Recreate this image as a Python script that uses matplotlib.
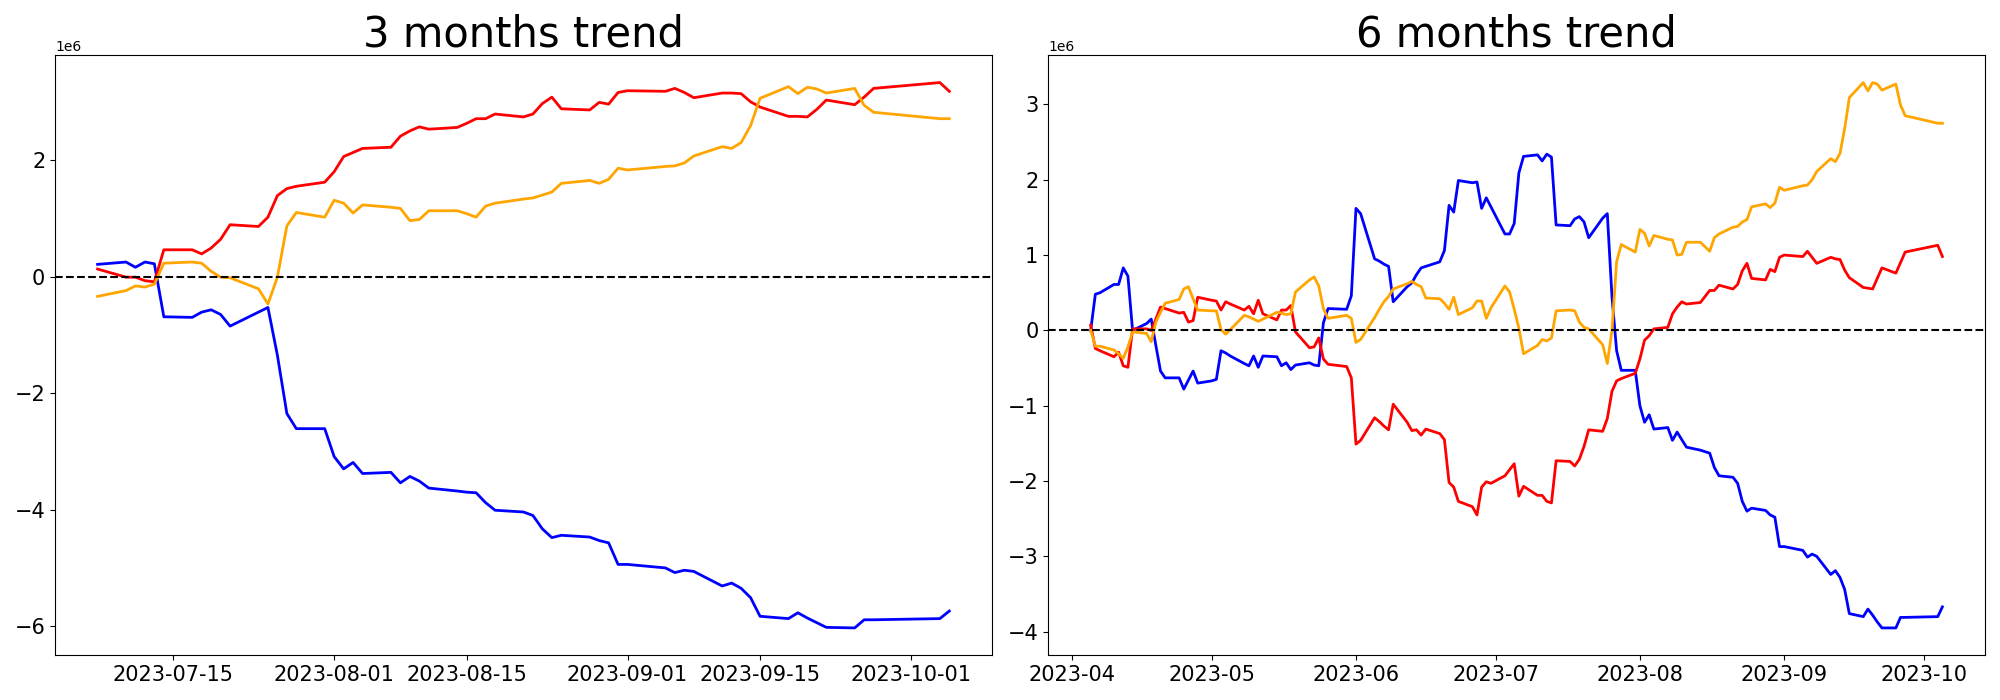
import matplotlib
matplotlib.use("Agg")
import matplotlib.pyplot as plt
import pandas as pd

# 3 months window (business days, values in units of 1e6 before scaling)
dates_3m = ['07-07', '07-10', '07-11', '07-12', '07-13', '07-14',
            '07-17', '07-18', '07-19', '07-20', '07-21',
            '07-24', '07-25', '07-26', '07-27', '07-28',
            '07-31', '08-01', '08-02', '08-03', '08-04',
            '08-07', '08-08', '08-09', '08-10', '08-11',
            '08-14', '08-15', '08-16', '08-17', '08-18',
            '08-21', '08-22', '08-23', '08-24', '08-25',
            '08-28', '08-29', '08-30', '08-31', '09-01',
            '09-05', '09-06', '09-07', '09-08',
            '09-11', '09-12', '09-13', '09-14', '09-15',
            '09-18', '09-19', '09-20', '09-21', '09-22',
            '09-25', '09-26', '09-27', '10-04', '10-05']

blue_3m = [0.21, 0.25, 0.16, 0.25, 0.22, -0.69,
           -0.70, -0.61, -0.57, -0.65, -0.85,
           -0.61, -0.53, -1.35, -2.35, -2.61,
           -2.61, -3.09, -3.30, -3.19, -3.38,
           -3.36, -3.54, -3.43, -3.51, -3.63,
           -3.68, -3.70, -3.71, -3.88, -4.01,
           -4.04, -4.10, -4.33, -4.48, -4.44,
           -4.47, -4.53, -4.57, -4.94, -4.94,
           -5.00, -5.08, -5.04, -5.06,
           -5.31, -5.26, -5.35, -5.51, -5.83,
           -5.87, -5.77, -5.86, -5.94, -6.02,
           -6.03, -5.89, -5.89, -5.87, -5.74]

red_3m = [0.13, -0.01, -0.01, -0.07, -0.09, 0.46,
          0.46, 0.39, 0.49, 0.64, 0.89,
          0.86, 1.02, 1.39, 1.51, 1.55,
          1.62, 1.80, 2.06, 2.13, 2.20,
          2.22, 2.41, 2.50, 2.57, 2.53,
          2.56, 2.63, 2.71, 2.71, 2.79,
          2.74, 2.79, 2.97, 3.08, 2.88,
          2.86, 2.99, 2.96, 3.16, 3.19,
          3.18, 3.23, 3.16, 3.07,
          3.15, 3.15, 3.14, 3.00, 2.91,
          2.75, 2.75, 2.74, 2.87, 3.03,
          2.95, 3.08, 3.23, 3.33, 3.18]

orange_3m = [-0.34, -0.24, -0.16, -0.18, -0.13, 0.23,
             0.25, 0.23, 0.09, -0.01, -0.02,
             -0.21, -0.47, -0.01, 0.87, 1.10,
             1.02, 1.31, 1.26, 1.09, 1.23,
             1.19, 1.17, 0.96, 0.98, 1.13,
             1.13, 1.08, 1.02, 1.21, 1.26,
             1.33, 1.35, 1.40, 1.45, 1.60,
             1.65, 1.60, 1.67, 1.86, 1.83,
             1.89, 1.90, 1.95, 2.07,
             2.23, 2.20, 2.30, 2.59, 3.06,
             3.26, 3.14, 3.25, 3.22, 3.15,
             3.23, 2.94, 2.82, 2.71, 2.71]

# 6 months window
dates_6m = ['04-05', '04-06', '04-07',
            '04-10', '04-11', '04-12', '04-13', '04-14',
            '04-17', '04-18', '04-19', '04-20', '04-21',
            '04-24', '04-25', '04-26', '04-27', '04-28',
            '05-01', '05-02', '05-03', '05-04', '05-05',
            '05-08', '05-09', '05-10', '05-11', '05-12',
            '05-15', '05-16', '05-17', '05-18', '05-19',
            '05-22', '05-23', '05-24', '05-25', '05-26',
            '05-30', '05-31', '06-01', '06-02',
            '06-05', '06-06', '06-07', '06-08', '06-09',
            '06-12', '06-13', '06-14', '06-15', '06-16',
            '06-19', '06-20', '06-21', '06-22', '06-23',
            '06-26', '06-27', '06-28', '06-29', '06-30',
            '07-03', '07-04', '07-05', '07-06', '07-07',
            '07-10', '07-11', '07-12', '07-13', '07-14',
            '07-17', '07-18', '07-19', '07-20', '07-21',
            '07-24', '07-25', '07-26', '07-27', '07-28',
            '07-31', '08-01', '08-02', '08-03', '08-04',
            '08-07', '08-08', '08-09', '08-10', '08-11',
            '08-14', '08-16', '08-17', '08-18',
            '08-21', '08-22', '08-23', '08-24', '08-25',
            '08-28', '08-29', '08-30', '08-31', '09-01',
            '09-05', '09-06', '09-07', '09-08',
            '09-11', '09-12', '09-13', '09-14', '09-15',
            '09-18', '09-19', '09-20', '09-21', '09-22',
            '09-25', '09-26', '09-27',
            '10-04', '10-05']

blue_6m = [0.00, 0.48, 0.50,
           0.61, 0.61, 0.83, 0.72, 0.00,
           0.09, 0.15, -0.20, -0.54, -0.63,
           -0.63, -0.78, -0.66, -0.54, -0.70,
           -0.67, -0.65, -0.27, -0.30, -0.34,
           -0.44, -0.47, -0.34, -0.49, -0.34,
           -0.35, -0.47, -0.43, -0.52, -0.46,
           -0.43, -0.46, -0.47, 0.10, 0.29,
           0.28, 0.46, 1.62, 1.55,
           0.95, 0.92, 0.88, 0.85, 0.38,
           0.58, 0.63, 0.74, 0.83, 0.85,
           0.91, 1.06, 1.66, 1.57, 1.99,
           1.96, 1.97, 1.62, 1.76, 1.64,
           1.28, 1.28, 1.42, 2.09, 2.31,
           2.33, 2.25, 2.34, 2.30, 1.40,
           1.39, 1.48, 1.51, 1.44, 1.23,
           1.49, 1.55, 0.45, -0.27, -0.53,
           -0.53, -1.00, -1.22, -1.12, -1.31,
           -1.29, -1.46, -1.35, -1.45, -1.55,
           -1.59, -1.63, -1.82, -1.93,
           -1.95, -2.03, -2.27, -2.40, -2.36,
           -2.39, -2.45, -2.48, -2.87, -2.87,
           -2.92, -3.01, -2.97, -3.00,
           -3.24, -3.19, -3.28, -3.44, -3.76,
           -3.80, -3.70, -3.78, -3.87, -3.95,
           -3.95, -3.81, -3.81,
           -3.80, -3.67]

red_6m = [0.07, -0.24, -0.27,
          -0.35, -0.29, -0.47, -0.49, 0.02,
          0.02, 0.00, 0.15, 0.31, 0.29,
          0.23, 0.24, 0.11, 0.13, 0.44,
          0.40, 0.39, 0.27, 0.38, 0.35,
          0.27, 0.32, 0.22, 0.40, 0.22,
          0.14, 0.27, 0.27, 0.33, -0.02,
          -0.23, -0.22, -0.10, -0.38, -0.45,
          -0.48, -0.63, -1.51, -1.46,
          -1.16, -1.21, -1.27, -1.32, -0.98,
          -1.22, -1.33, -1.32, -1.39, -1.31,
          -1.37, -1.45, -2.02, -2.08, -2.27,
          -2.34, -2.45, -2.08, -2.01, -2.03,
          -1.93, -1.85, -1.77, -2.20, -2.07,
          -2.19, -2.19, -2.27, -2.29, -1.73,
          -1.74, -1.80, -1.71, -1.54, -1.32,
          -1.34, -1.17, -0.81, -0.67, -0.64,
          -0.57, -0.38, -0.13, -0.07, 0.02,
          0.04, 0.22, 0.31, 0.38, 0.35,
          0.37, 0.53, 0.53, 0.60,
          0.55, 0.61, 0.79, 0.89, 0.69,
          0.67, 0.81, 0.78, 0.97, 1.00,
          0.98, 1.05, 0.97, 0.89,
          0.97, 0.95, 0.94, 0.80, 0.70,
          0.57, 0.56, 0.55, 0.69, 0.83,
          0.76, 0.90, 1.04,
          1.13, 0.98]

orange_6m = [0.00, -0.21, -0.21,
             -0.26, -0.31, -0.37, -0.22, -0.02,
             -0.04, -0.15, 0.11, 0.24, 0.36,
             0.41, 0.55, 0.58, 0.42, 0.27,
             0.26, 0.26, 0.01, -0.05, 0.01,
             0.20, 0.18, 0.15, 0.12, 0.15,
             0.24, 0.23, 0.21, 0.22, 0.51,
             0.67, 0.71, 0.59, 0.29, 0.16,
             0.20, 0.16, -0.16, -0.12,
             0.17, 0.28, 0.38, 0.45, 0.55,
             0.62, 0.65, 0.61, 0.58, 0.43,
             0.42, 0.36, 0.28, 0.44, 0.21,
             0.30, 0.39, 0.39, 0.16, 0.30,
             0.59, 0.51, 0.28, 0.03, -0.31,
             -0.20, -0.12, -0.14, -0.10, 0.26,
             0.27, 0.26, 0.11, 0.04, 0.02,
             -0.19, -0.44, 0.00, 0.91, 1.14,
             1.04, 1.34, 1.29, 1.12, 1.26,
             1.21, 1.20, 1.00, 1.01, 1.17,
             1.17, 1.05, 1.23, 1.28,
             1.37, 1.38, 1.44, 1.47, 1.64,
             1.68, 1.63, 1.69, 1.90, 1.86,
             1.92, 1.93, 2.00, 2.11,
             2.28, 2.24, 2.35, 2.68, 3.09,
             3.29, 3.18, 3.29, 3.27, 3.19,
             3.27, 2.99, 2.85,
             2.75, 2.75]

SCALE = 1e6


def draw_trend(ax, days, blue, red, orange, title):
    x = pd.to_datetime(['2023-' + d for d in days])
    ax.plot(x, [v * SCALE for v in blue], color='blue', linewidth=2)
    ax.plot(x, [v * SCALE for v in red], color='red', linewidth=2)
    ax.plot(x, [v * SCALE for v in orange], color='orange', linewidth=2)
    ax.axhline(0, color='black', linestyle='--', linewidth=1.5)
    ax.set_title(title, fontsize=30)
    ax.tick_params(labelsize=15)


fig, (ax1, ax2) = plt.subplots(1, 2, figsize=(20, 7))
draw_trend(ax1, dates_3m, blue_3m, red_3m, orange_3m, '3 months trend')
draw_trend(ax2, dates_6m, blue_6m, red_6m, orange_6m, '6 months trend')
fig.subplots_adjust(left=0.0275, right=0.9925, bottom=0.064, top=0.921, wspace=0.06)
fig.savefig('out.png', dpi=100)
